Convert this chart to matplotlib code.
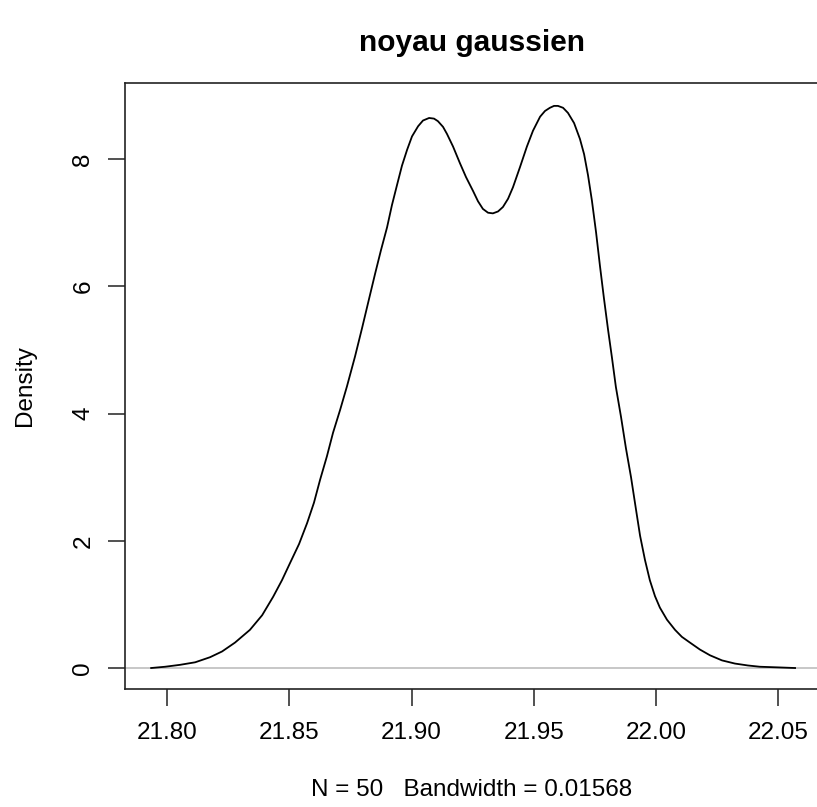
import matplotlib
matplotlib.use('Agg')
import matplotlib.pyplot as plt

plt.rcParams['font.family'] = ['Liberation Sans', 'DejaVu Sans']

# Density curve (x in data units, density)
xs = [21.7935, 21.7992, 21.8053, 21.8115, 21.8176, 21.8225, 21.8278, 21.8339,
      21.8389, 21.8434, 21.8470, 21.8503, 21.8540, 21.8573, 21.8601, 21.8626,
      21.8654, 21.8679, 21.8708, 21.8736, 21.8769, 21.8798, 21.8826, 21.8851,
      21.8875, 21.8900, 21.8920, 21.8941, 21.8961, 21.8982, 21.9002, 21.9027,
      21.9047, 21.9072, 21.9092, 21.9108, 21.9129, 21.9145, 21.9170, 21.9198,
      21.9223, 21.9252, 21.9272, 21.9292, 21.9313, 21.9333, 21.9354, 21.9374,
      21.9395, 21.9415, 21.9444, 21.9472, 21.9497, 21.9526, 21.9546, 21.9566,
      21.9583, 21.9599, 21.9620, 21.9640, 21.9665, 21.9689, 21.9706, 21.9722,
      21.9738, 21.9755, 21.9771, 21.9787, 21.9804, 21.9820, 21.9836, 21.9857,
      21.9877, 21.9898, 21.9918, 21.9935, 21.9955, 21.9975, 21.9996, 22.0016,
      22.0045, 22.0078, 22.0106, 22.0139, 22.0180, 22.0221, 22.0270, 22.0323,
      22.0376, 22.0425, 22.0499, 22.0569]
density = [0.0, 0.02, 0.05, 0.09, 0.17, 0.26, 0.40, 0.60,
           0.83, 1.12, 1.38, 1.65, 1.95, 2.28, 2.60, 2.96,
           3.33, 3.70, 4.06, 4.43, 4.90, 5.35, 5.80, 6.20,
           6.57, 6.93, 7.28, 7.60, 7.90, 8.15, 8.36, 8.52,
           8.61, 8.65, 8.64, 8.60, 8.51, 8.40, 8.20, 7.94,
           7.72, 7.50, 7.34, 7.22, 7.16, 7.15, 7.18, 7.25,
           7.38, 7.56, 7.88, 8.20, 8.45, 8.67, 8.76, 8.81,
           8.84, 8.84, 8.81, 8.73, 8.57, 8.32, 8.08, 7.75,
           7.35, 6.85, 6.32, 5.82, 5.32, 4.88, 4.42, 3.95,
           3.46, 3.00, 2.50, 2.08, 1.70, 1.38, 1.13, 0.95,
           0.76, 0.60, 0.49, 0.40, 0.29, 0.20, 0.12, 0.07,
           0.04, 0.02, 0.01, 0.0]

xticks = [21.80, 21.85, 21.90, 21.95, 22.00, 22.05]
xtick_labels = ['21.80', '21.85', '21.90', '21.95', '22.00', '22.05']
yticks = [0, 2, 4, 6, 8]

W, H = 817, 807
fig = plt.figure(figsize=(W / 100, H / 100), dpi=100)
ax = fig.add_axes([125 / W, 1 - 689 / H, 695 / W, 606 / H])

ax.axhline(0, color='#bebebe', lw=1.2, zorder=1)
ax.plot(xs, density, color='black', lw=1.3, zorder=2)

ax.set_xlim(21.7828, 22.0671)
ax.set_ylim(-0.33, 9.2)
ax.set_xticks(xticks)
ax.set_xticklabels(xtick_labels)
ax.set_yticks(yticks)
ax.set_yticklabels([str(t) for t in yticks], rotation=90, va='center')

for s in ax.spines.values():
    s.set_linewidth(1.2)
    s.set_color('#222222')
ax.tick_params(direction='out', length=12, width=1.1, color='#222222',
               labelsize=17.5)
ax.tick_params(axis='x', pad=12)
ax.tick_params(axis='y', pad=10)

fig.text(472 / W, 1 - 43 / H, 'noyau gaussien', ha='center', va='center',
         fontsize=21.5, fontweight='bold')
fig.text(472 / W, 1 - 790 / H, 'N = 50   Bandwidth = 0.01568', ha='center',
         va='center', fontsize=17.5)
fig.text(25 / W, 1 - 386 / H, 'Density', ha='center', va='center',
         rotation=90, fontsize=17.5)

fig.savefig('out.png', dpi=100)
